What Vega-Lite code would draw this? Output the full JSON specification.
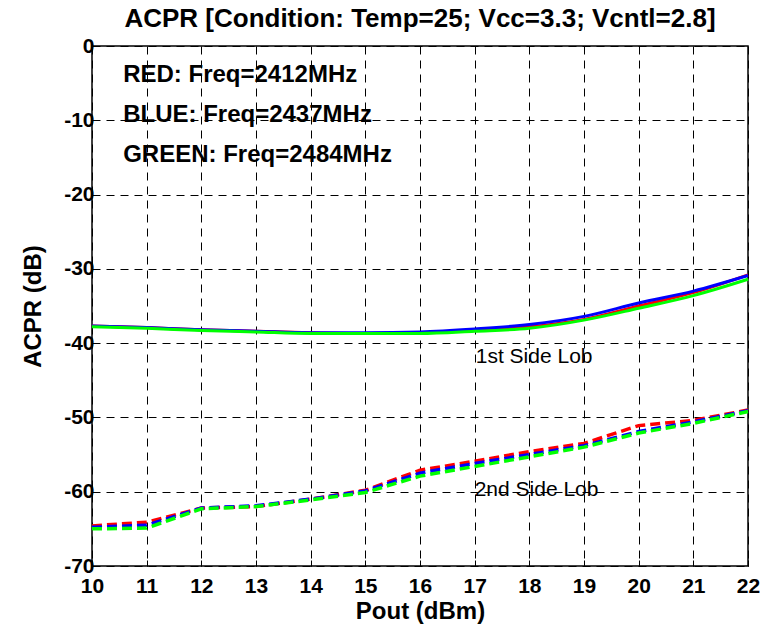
{
  "$schema": "https://vega.github.io/schema/vega-lite/v6.json",
  "width": 656,
  "height": 520,
  "autosize": {"type": "none"},
  "padding": {"left": 92, "top": 46, "right": 20, "bottom": 67},
  "background": "white",
  "title": {"text": "ACPR [Condition: Temp=25; Vcc=3.3; Vcntl=2.8]", "font": "Liberation Sans", "fontSize": 26, "fontWeight": "bold", "color": "black", "anchor": "middle", "offset": 3},
  "config": {
    "view": {"stroke": "black", "strokeWidth": 1.5},
    "axis": {
      "domain": false,
      "grid": true, "gridColor": "black", "gridDash": [8, 6], "gridWidth": 1, "gridOpacity": 1,
      "ticks": true, "tickColor": "black", "tickSize": -6, "tickWidth": 1,
      "labelFont": "Liberation Sans", "labelFontSize": 21, "labelFontWeight": "bold", "labelColor": "black",
      "labelExpr": "'' + datum.value", "labelFlush": false, "labelOverlap": false,
      "titleFont": "Liberation Sans", "titleFontSize": 24, "titleFontWeight": "bold", "titleColor": "black"
    }
  },
  "datasets": {
    "curves": [
      {"pout": 10, "acpr": -37.7, "freq": "RED", "lobe": "1st"},
      {"pout": 11, "acpr": -37.9, "freq": "RED", "lobe": "1st"},
      {"pout": 12, "acpr": -38.2, "freq": "RED", "lobe": "1st"},
      {"pout": 13, "acpr": -38.4, "freq": "RED", "lobe": "1st"},
      {"pout": 14, "acpr": -38.6, "freq": "RED", "lobe": "1st"},
      {"pout": 15, "acpr": -38.7, "freq": "RED", "lobe": "1st"},
      {"pout": 16, "acpr": -38.6, "freq": "RED", "lobe": "1st"},
      {"pout": 17, "acpr": -38.3, "freq": "RED", "lobe": "1st"},
      {"pout": 18, "acpr": -37.8, "freq": "RED", "lobe": "1st"},
      {"pout": 19, "acpr": -36.8, "freq": "RED", "lobe": "1st"},
      {"pout": 20, "acpr": -35.0, "freq": "RED", "lobe": "1st"},
      {"pout": 21, "acpr": -33.2, "freq": "RED", "lobe": "1st"},
      {"pout": 22, "acpr": -30.8, "freq": "RED", "lobe": "1st"},
      {"pout": 10, "acpr": -37.7, "freq": "BLUE", "lobe": "1st"},
      {"pout": 11, "acpr": -37.9, "freq": "BLUE", "lobe": "1st"},
      {"pout": 12, "acpr": -38.2, "freq": "BLUE", "lobe": "1st"},
      {"pout": 13, "acpr": -38.4, "freq": "BLUE", "lobe": "1st"},
      {"pout": 14, "acpr": -38.6, "freq": "BLUE", "lobe": "1st"},
      {"pout": 15, "acpr": -38.6, "freq": "BLUE", "lobe": "1st"},
      {"pout": 16, "acpr": -38.5, "freq": "BLUE", "lobe": "1st"},
      {"pout": 17, "acpr": -38.1, "freq": "BLUE", "lobe": "1st"},
      {"pout": 18, "acpr": -37.5, "freq": "BLUE", "lobe": "1st"},
      {"pout": 19, "acpr": -36.4, "freq": "BLUE", "lobe": "1st"},
      {"pout": 20, "acpr": -34.6, "freq": "BLUE", "lobe": "1st"},
      {"pout": 21, "acpr": -33.0, "freq": "BLUE", "lobe": "1st"},
      {"pout": 22, "acpr": -30.9, "freq": "BLUE", "lobe": "1st"},
      {"pout": 10, "acpr": -37.8, "freq": "GREEN", "lobe": "1st"},
      {"pout": 11, "acpr": -38.0, "freq": "GREEN", "lobe": "1st"},
      {"pout": 12, "acpr": -38.3, "freq": "GREEN", "lobe": "1st"},
      {"pout": 13, "acpr": -38.5, "freq": "GREEN", "lobe": "1st"},
      {"pout": 14, "acpr": -38.7, "freq": "GREEN", "lobe": "1st"},
      {"pout": 15, "acpr": -38.7, "freq": "GREEN", "lobe": "1st"},
      {"pout": 16, "acpr": -38.7, "freq": "GREEN", "lobe": "1st"},
      {"pout": 17, "acpr": -38.4, "freq": "GREEN", "lobe": "1st"},
      {"pout": 18, "acpr": -38.0, "freq": "GREEN", "lobe": "1st"},
      {"pout": 19, "acpr": -36.9, "freq": "GREEN", "lobe": "1st"},
      {"pout": 20, "acpr": -35.3, "freq": "GREEN", "lobe": "1st"},
      {"pout": 21, "acpr": -33.6, "freq": "GREEN", "lobe": "1st"},
      {"pout": 22, "acpr": -31.4, "freq": "GREEN", "lobe": "1st"},
      {"pout": 10, "acpr": -64.6, "freq": "RED", "lobe": "2nd"},
      {"pout": 11, "acpr": -64.1, "freq": "RED", "lobe": "2nd"},
      {"pout": 12, "acpr": -62.2, "freq": "RED", "lobe": "2nd"},
      {"pout": 13, "acpr": -62.0, "freq": "RED", "lobe": "2nd"},
      {"pout": 14, "acpr": -61.0, "freq": "RED", "lobe": "2nd"},
      {"pout": 15, "acpr": -59.8, "freq": "RED", "lobe": "2nd"},
      {"pout": 16, "acpr": -57.1, "freq": "RED", "lobe": "2nd"},
      {"pout": 17, "acpr": -55.9, "freq": "RED", "lobe": "2nd"},
      {"pout": 18, "acpr": -54.6, "freq": "RED", "lobe": "2nd"},
      {"pout": 19, "acpr": -53.5, "freq": "RED", "lobe": "2nd"},
      {"pout": 20, "acpr": -51.1, "freq": "RED", "lobe": "2nd"},
      {"pout": 21, "acpr": -50.4, "freq": "RED", "lobe": "2nd"},
      {"pout": 22, "acpr": -49.0, "freq": "RED", "lobe": "2nd"},
      {"pout": 10, "acpr": -64.8, "freq": "BLUE", "lobe": "2nd"},
      {"pout": 11, "acpr": -64.5, "freq": "BLUE", "lobe": "2nd"},
      {"pout": 12, "acpr": -62.2, "freq": "BLUE", "lobe": "2nd"},
      {"pout": 13, "acpr": -61.9, "freq": "BLUE", "lobe": "2nd"},
      {"pout": 14, "acpr": -61.0, "freq": "BLUE", "lobe": "2nd"},
      {"pout": 15, "acpr": -59.9, "freq": "BLUE", "lobe": "2nd"},
      {"pout": 16, "acpr": -57.5, "freq": "BLUE", "lobe": "2nd"},
      {"pout": 17, "acpr": -56.2, "freq": "BLUE", "lobe": "2nd"},
      {"pout": 18, "acpr": -55.0, "freq": "BLUE", "lobe": "2nd"},
      {"pout": 19, "acpr": -53.8, "freq": "BLUE", "lobe": "2nd"},
      {"pout": 20, "acpr": -51.9, "freq": "BLUE", "lobe": "2nd"},
      {"pout": 21, "acpr": -50.6, "freq": "BLUE", "lobe": "2nd"},
      {"pout": 22, "acpr": -49.1, "freq": "BLUE", "lobe": "2nd"},
      {"pout": 10, "acpr": -65.0, "freq": "GREEN", "lobe": "2nd"},
      {"pout": 11, "acpr": -64.9, "freq": "GREEN", "lobe": "2nd"},
      {"pout": 12, "acpr": -62.3, "freq": "GREEN", "lobe": "2nd"},
      {"pout": 13, "acpr": -62.0, "freq": "GREEN", "lobe": "2nd"},
      {"pout": 14, "acpr": -61.1, "freq": "GREEN", "lobe": "2nd"},
      {"pout": 15, "acpr": -60.1, "freq": "GREEN", "lobe": "2nd"},
      {"pout": 16, "acpr": -57.9, "freq": "GREEN", "lobe": "2nd"},
      {"pout": 17, "acpr": -56.6, "freq": "GREEN", "lobe": "2nd"},
      {"pout": 18, "acpr": -55.3, "freq": "GREEN", "lobe": "2nd"},
      {"pout": 19, "acpr": -54.0, "freq": "GREEN", "lobe": "2nd"},
      {"pout": 20, "acpr": -52.1, "freq": "GREEN", "lobe": "2nd"},
      {"pout": 21, "acpr": -50.8, "freq": "GREEN", "lobe": "2nd"},
      {"pout": 22, "acpr": -49.2, "freq": "GREEN", "lobe": "2nd"}
    ],
    "legendText": [
      {"pout": 10.57, "acpr": -3.9, "label": "RED: Freq=2412MHz"},
      {"pout": 10.57, "acpr": -9.3, "label": "BLUE: Freq=2437MHz"},
      {"pout": 10.57, "acpr": -14.7, "label": "GREEN: Freq=2484MHz"}
    ],
    "lobeText": [
      {"pout": 17.02, "acpr": -41.9, "label": "1st Side Lob"},
      {"pout": 17.0, "acpr": -59.8, "label": "2nd Side Lob"}
    ]
  },
  "layer": [
    {
      "data": {"name": "curves"},
      "transform": [{"filter": "datum.lobe === '1st'"}],
      "mark": {"type": "line", "strokeWidth": 3, "interpolate": "monotone"},
      "encoding": {
        "x": {"field": "pout", "type": "quantitative", "scale": {"domain": [10, 22], "nice": false}, "axis": {"title": "Pout (dBm)", "values": [10,11,12,13,14,15,16,17,18,19,20,21,22], "labelPadding": 15, "titlePadding": 3}},
        "y": {"field": "acpr", "type": "quantitative", "scale": {"domain": [-70, 0], "nice": false}, "axis": {"title": "ACPR (dB)", "values": [0,-10,-20,-30,-40,-50,-60,-70], "labelPadding": 4, "titlePadding": 18}},
        "color": {"field": "freq", "type": "nominal", "scale": {"domain": ["RED", "BLUE", "GREEN"], "range": ["#ff0000", "#0000ff", "#00ff00"]}, "legend": null},
        "order": {"field": "freq", "sort": "descending"}
      }
    },
    {
      "data": {"name": "curves"},
      "transform": [{"filter": "datum.lobe === '2nd'"}],
      "mark": {"type": "line", "strokeWidth": 3.5, "strokeDash": [10, 5]},
      "encoding": {
        "x": {"field": "pout", "type": "quantitative"},
        "y": {"field": "acpr", "type": "quantitative"},
        "color": {"field": "freq", "type": "nominal"}
      }
    },
    {
      "data": {"name": "legendText"},
      "mark": {"type": "text", "align": "left", "baseline": "middle", "font": "Liberation Sans", "fontSize": 24, "fontWeight": "bold", "color": "black"},
      "encoding": {
        "x": {"field": "pout", "type": "quantitative"},
        "y": {"field": "acpr", "type": "quantitative"},
        "text": {"field": "label"}
      }
    },
    {
      "data": {"name": "lobeText"},
      "mark": {"type": "text", "align": "left", "baseline": "middle", "font": "Liberation Sans", "fontSize": 21, "color": "black"},
      "encoding": {
        "x": {"field": "pout", "type": "quantitative"},
        "y": {"field": "acpr", "type": "quantitative"},
        "text": {"field": "label"}
      }
    }
  ]
}
